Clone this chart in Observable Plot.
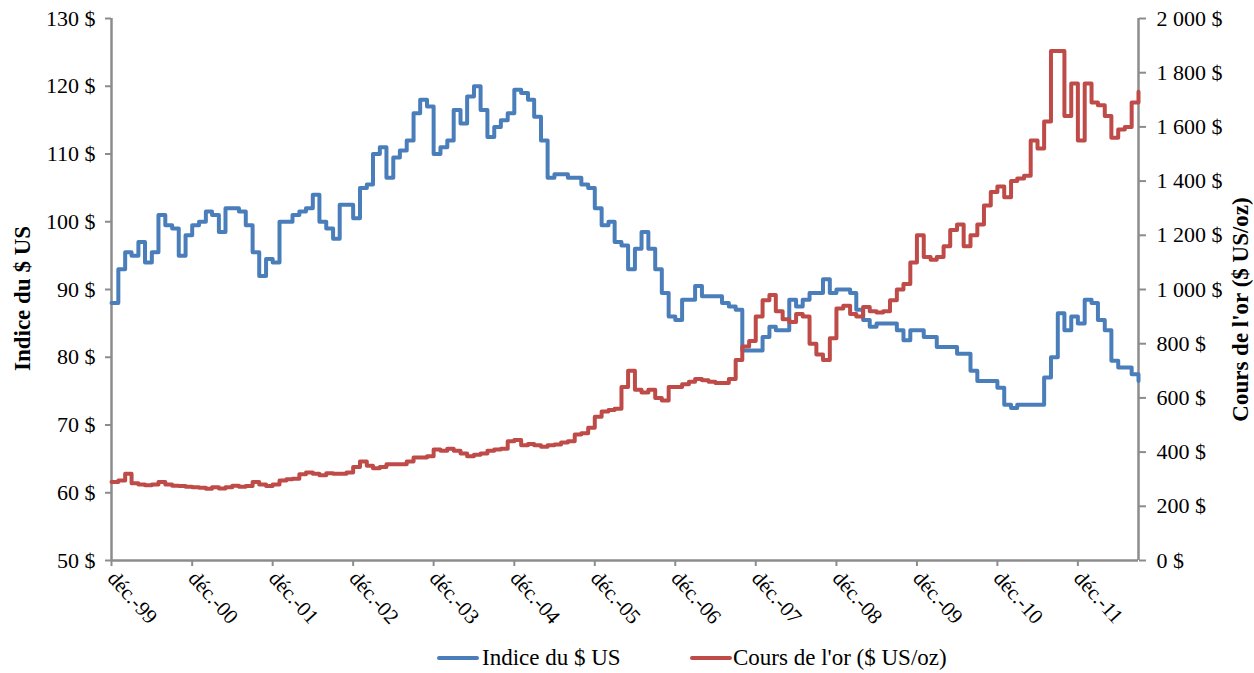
<!DOCTYPE html>
<html>
<head>
<meta charset="utf-8">
<script src="https://cdn.jsdelivr.net/npm/d3@7"></script>
<script src="https://cdn.jsdelivr.net/npm/@observablehq/plot@0.6"></script>
<style>
  body { margin: 0; background: #fff; font-family: "Liberation Serif", "Times New Roman", serif; }
  #wrap { position: relative; width: 1254px; height: 673px; overflow: hidden; }
  #chart { position: absolute; left: 0; top: 0; }
  .sw { position: absolute; height: 4px; border-radius: 2px; }
  .lt { position: absolute; font-size: 23px; line-height: 23px; color: #000; white-space: nowrap; }
</style>
</head>
<body>
<div id="wrap">
  <div id="chart"></div>
  <div id="legend"></div>
</div>
<script>
// ---- data (monthly, starting December 1999) ----
const startYear = 1999, startMonthIndex = 11; // December 1999

const usdIndex = [
  88, 93, 95.5, 95, 97, 94, 95.5, 101, 99.5, 99, 95, 98,
  99.5, 100, 101.5, 101, 98.5, 102, 102, 101.5, 99.5, 95.5, 92, 94.5,
  94, 100, 100, 101, 101.5, 102, 104, 100, 99, 97.5, 102.5, 102.5,
  100.5, 105, 105.5, 110, 111, 106.5, 109.5, 110.5, 112, 116, 118, 117,
  110, 111, 112, 116.5, 114.5, 118.5, 120, 116.5, 112.5, 114, 115, 116,
  119.5, 119, 118, 115.5, 112, 106.5, 107, 107, 106.5, 106.5, 105.5, 105,
  102, 99.5, 100, 97, 96.5, 93, 96, 98.5, 96, 93, 89.5, 86,
  85.5, 88.5, 88.5, 90.5, 89, 89, 89, 88, 87.5, 87, 81, 81,
  81, 83, 84.5, 84, 84, 88.5, 87.5, 88.5, 89.5, 89.5, 91.5, 89.5,
  90, 90, 89.5, 87, 85.5, 84.5, 85, 85, 85, 84, 82.5, 84,
  84, 83, 83, 81.5, 81.5, 81.5, 80.5, 80.5, 78, 76.5, 76.5, 76.5,
  75.5, 73, 72.5, 73, 73, 73, 73, 77, 80, 86.5, 84, 86,
  85, 88.5, 88, 85.5, 84, 79.5, 78.5, 78.5, 77.5, 76.5
];

const goldPrice = [
  290, 295, 320, 285, 280, 278, 280, 290, 280, 276, 275, 272,
  270, 268, 265, 270, 266, 270, 276, 272, 275, 290, 280, 275,
  280, 295, 300, 302, 318, 325, 320, 315, 322, 320, 320, 325,
  345, 365, 350, 340, 345, 355, 355, 355, 365, 380, 380, 385,
  410, 405, 412, 405, 395, 385, 390, 395, 405, 410, 412, 440,
  445, 425, 430, 425, 420, 425, 428, 435, 440, 465, 470, 490,
  530, 550, 555, 560, 640, 700, 630, 620, 630, 600, 590, 640,
  640, 650, 660, 670, 665, 660, 655, 655, 670, 740, 790, 810,
  900, 960, 980, 920, 890, 880, 910, 900, 800, 760, 740, 820,
  930, 940, 910, 900, 935, 920, 915, 920, 960, 1000, 1020, 1100,
  1200, 1120, 1110, 1120, 1160, 1220, 1240, 1160, 1200, 1240, 1310, 1360,
  1380, 1340, 1400, 1410, 1420, 1550, 1520, 1620, 1880, 1880, 1640, 1760,
  1550, 1760, 1690, 1680, 1640, 1560, 1590, 1600, 1690, 1730
];

const leftTicks = [50, 60, 70, 80, 90, 100, 110, 120, 130];
const rightTicks = [0, 200, 400, 600, 800, 1000, 1200, 1400, 1600, 1800, 2000];
const xTickYears = [1999, 2000, 2001, 2002, 2003, 2004, 2005, 2006, 2007, 2008, 2009, 2010, 2011];
const seriesNames = ["Indice du $ US", "Cours de l'or ($ US/oz)"];
const seriesColors = ["#4a7ebb", "#be4b48"];
const leftTitle = "Indice du $ US";
const rightTitle = "Cours de l'or ($ US/oz)";

// ---- helpers ----
const t0 = new Date(Date.UTC(startYear, startMonthIndex, 1));
const monthDate = i => d3.utcMonth.offset(t0, i);
const leftMin = 50, leftMax = 130, rightMax = 2000;
const goldToLeft = g => leftMin + g * (leftMax - leftMin) / rightMax;
const leftToGold = v => Math.round((v - leftMin) * rightMax / (leftMax - leftMin));
const spaceThousands = n => d3.format(",")(n).replace(/,/g, " ");

const usdRows = usdIndex.map((v, i) => ({date: monthDate(i), y: v}));
const goldRows = goldPrice.map((g, i) => ({date: monthDate(i), y: goldToLeft(g)}));
const xStart = monthDate(0), xEnd = monthDate(usdIndex.length - 1);
const axisGray = "#8c8c8c";

const chart = Plot.plot({
  width: 1254,
  height: 635,
  marginLeft: 111,
  marginRight: 116,
  marginTop: 18,
  marginBottom: 75,
  style: {fontFamily: "'Liberation Serif', 'Times New Roman', serif", fontSize: "22px", color: "#000", background: "transparent"},
  x: {type: "utc", domain: [xStart, xEnd]},
  y: {domain: [leftMin, leftMax]},
  marks: [
    Plot.axisY(leftTicks, {
      anchor: "left", tickSize: 6, tickPadding: 10, stroke: axisGray, strokeWidth: 2,
      fill: "#000", tickFormat: d => `${d} $`, label: null
    }),
    Plot.axisY(rightTicks.map(goldToLeft), {
      anchor: "right", tickSize: 7, tickPadding: 11, stroke: axisGray, strokeWidth: 2,
      fill: "#000", tickFormat: d => `${spaceThousands(leftToGold(d))} $`, label: null
    }),
    Plot.axisX(xTickYears.map(y => new Date(Date.UTC(y, 11, 1))), {
      anchor: "bottom", tickSize: 6, tickPadding: 8, tickRotate: 48, stroke: axisGray, strokeWidth: 2,
      fill: "#000", fontSize: 21, tickFormat: d => "déc.-" + String(d.getUTCFullYear() % 100).padStart(2, "0"), label: null
    }),
    Plot.ruleX([xStart], {stroke: axisGray, strokeWidth: 2.5}),
    Plot.ruleX([xEnd], {stroke: axisGray, strokeWidth: 2.5}),
    Plot.ruleY([leftMin], {stroke: axisGray, strokeWidth: 2.5}),
    Plot.line(usdRows, {x: "date", y: "y", curve: "step-after", stroke: seriesColors[0], strokeWidth: 4}),
    Plot.line(goldRows, {x: "date", y: "y", curve: "step-after", stroke: seriesColors[1], strokeWidth: 4}),
    Plot.text([leftTitle], {frameAnchor: "left", dx: -89, dy: 9, rotate: -90, textAnchor: "middle",
      fontWeight: "bold", fontSize: 23, fill: "#000"}),
    Plot.text([rightTitle], {frameAnchor: "right", dx: 102, dy: 20, rotate: -90, textAnchor: "middle",
      fontWeight: "bold", fontSize: 23, fill: "#000"})
  ]
});
document.getElementById("chart").appendChild(chart);

// ---- legend (below the SVG) ----
const legend = document.getElementById("legend");
const legendPos = [{sw: 437, tx: 482}, {sw: 690, tx: 733}];
seriesNames.forEach((name, i) => {
  const sw = document.createElement("div");
  sw.className = "sw";
  sw.style.left = legendPos[i].sw + "px";
  sw.style.top = "656px";
  sw.style.width = "42px";
  sw.style.background = seriesColors[i];
  legend.appendChild(sw);
  const tx = document.createElement("div");
  tx.className = "lt";
  tx.style.left = legendPos[i].tx + "px";
  tx.style.top = "646px";
  tx.textContent = name;
  legend.appendChild(tx);
});
</script>
</body>
</html>
